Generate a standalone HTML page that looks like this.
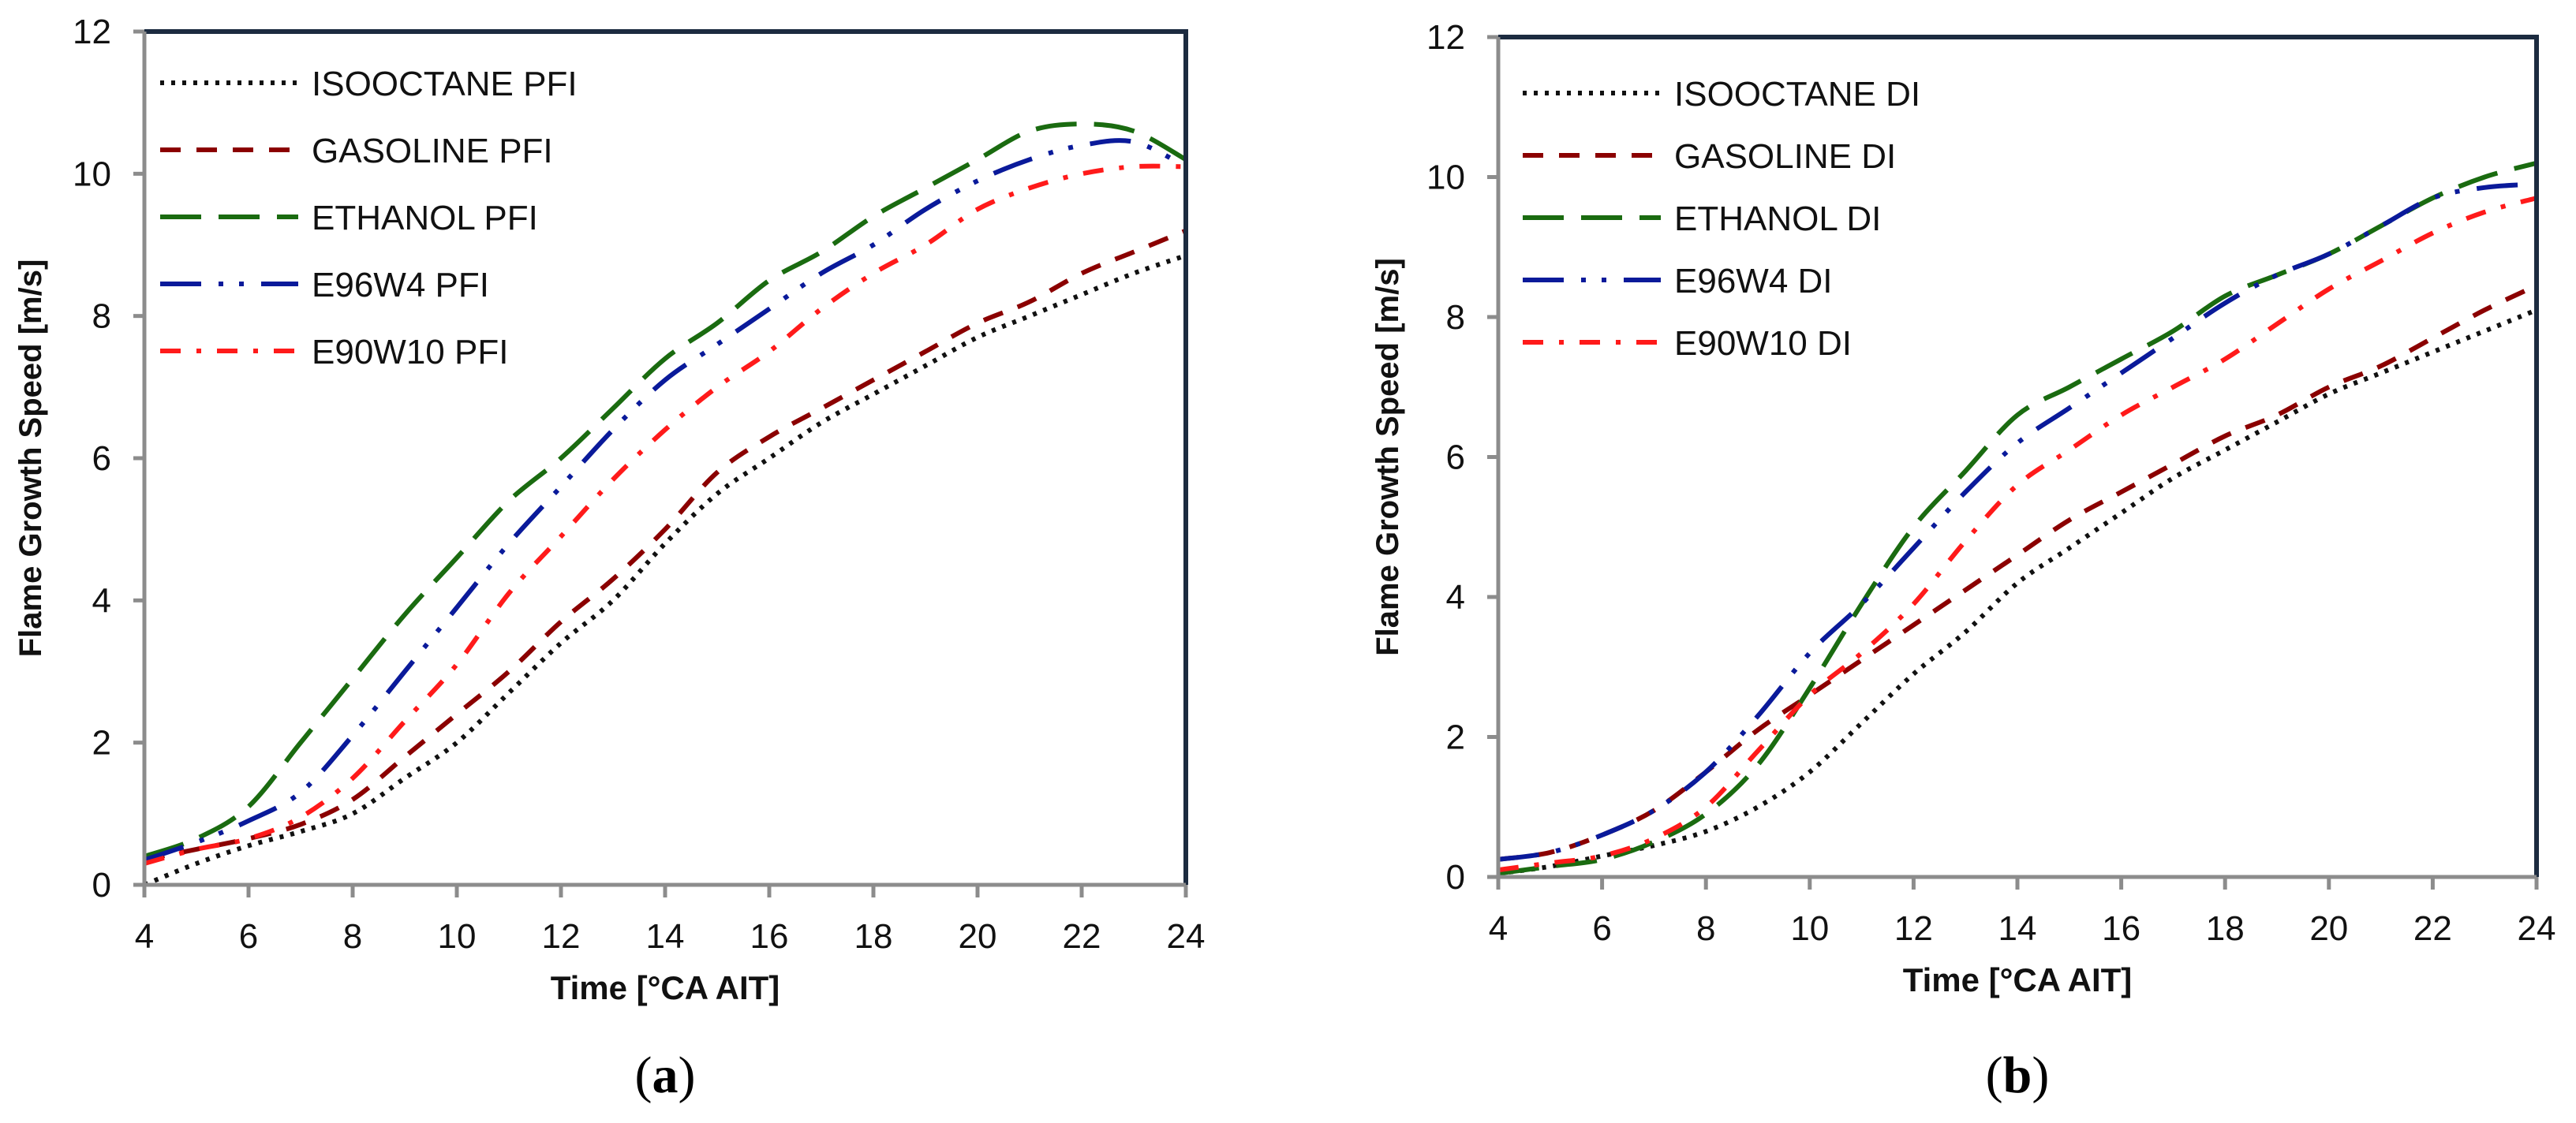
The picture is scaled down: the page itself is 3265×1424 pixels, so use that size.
<!DOCTYPE html>
<html><head><meta charset="utf-8"><style>
html,body{margin:0;padding:0;background:#fff;}
svg text{font-family:"Liberation Sans",sans-serif;}
</style></head><body>
<svg id="fig" width="3265" height="1419" viewBox="0 0 3265 1419" xmlns="http://www.w3.org/2000/svg"></svg>
<script>
const times = [4,5,6,7,8,9,10,11,12,13,14,15,16,17,18,19,20,21,22,23,24];
const xTicks = [4,6,8,10,12,14,16,18,20,22,24];
const yTicks = [0,2,4,6,8,10,12];
const pfiNames = ["ISOOCTANE PFI","GASOLINE PFI","ETHANOL PFI","E96W4 PFI","E90W10 PFI"];
const diNames = ["ISOOCTANE DI","GASOLINE DI","ETHANOL DI","E96W4 DI","E90W10 DI"];
const pfiIso = [0,0.3,0.55,0.75,1.0,1.5,2.0,2.7,3.4,4.0,4.8,5.5,6.0,6.5,6.9,7.3,7.7,8.0,8.3,8.6,8.85];
const pfiGas = [0.35,0.5,0.65,0.85,1.2,1.8,2.4,3.0,3.7,4.3,5.0,5.8,6.3,6.7,7.1,7.5,7.9,8.2,8.6,8.9,9.2];
const pfiEth = [0.4,0.65,1.1,2.0,2.9,3.8,4.6,5.4,6.0,6.7,7.4,7.9,8.5,8.9,9.4,9.8,10.2,10.6,10.7,10.6,10.2];
const pfiE96 = [0.35,0.6,0.9,1.3,2.1,3.0,3.9,4.8,5.6,6.4,7.1,7.6,8.1,8.6,9.0,9.5,9.9,10.2,10.4,10.45,10.1];
const pfiE90 = [0.3,0.5,0.65,0.95,1.5,2.3,3.1,4.1,4.9,5.7,6.4,7.0,7.5,8.1,8.6,9.0,9.5,9.8,10.0,10.1,10.1];
const diIso = [0.05,0.15,0.3,0.45,0.65,1.0,1.5,2.2,2.9,3.5,4.2,4.7,5.2,5.7,6.1,6.5,6.9,7.2,7.5,7.8,8.1];
const diGas = [0.25,0.35,0.6,0.95,1.5,2.1,2.6,3.1,3.6,4.1,4.6,5.1,5.5,5.9,6.3,6.6,7.0,7.3,7.7,8.1,8.45];
const diEth = [0.05,0.15,0.25,0.5,0.9,1.6,2.7,3.9,5.0,5.8,6.6,7.0,7.4,7.8,8.3,8.6,8.9,9.3,9.7,10.0,10.2];
const diE96 = [0.25,0.35,0.6,0.95,1.5,2.3,3.2,3.9,4.7,5.5,6.2,6.7,7.2,7.7,8.2,8.6,8.9,9.3,9.7,9.85,9.9];
const diE90 = [0.1,0.2,0.3,0.55,1.0,1.8,2.6,3.2,3.9,4.8,5.6,6.1,6.6,7.0,7.4,7.9,8.4,8.8,9.2,9.5,9.7];

const NS="http://www.w3.org/2000/svg";
const svg=document.getElementById('fig');
function mk(tag,attrs,parent){const e=document.createElementNS(NS,tag);for(const k in attrs)e.setAttribute(k,attrs[k]);(parent||svg).appendChild(e);return e;}
const styles=[
 {c:"#111111",d:"5 9"},
 {c:"#8b0000",d:"26 20"},
 {c:"#1a6b10",d:"52 22"},
 {c:"#0a1a9a",d:"52 22 6 20 6 22"},
 {c:"#ff1a1a",d:"26 20 6 20"}
];
function smooth(pts){let d=`M${pts[0][0]},${pts[0][1]}`;for(let i=0;i<pts.length-1;i++){const p0=pts[Math.max(0,i-1)],p1=pts[i],p2=pts[i+1],p3=pts[Math.min(pts.length-1,i+2)];
const c1=[p1[0]+(p2[0]-p0[0])/6,p1[1]+(p2[1]-p0[1])/6],c2=[p2[0]-(p3[0]-p1[0])/6,p2[1]-(p3[1]-p1[1])/6];
d+=` C${c1[0].toFixed(1)},${c1[1].toFixed(1)} ${c2[0].toFixed(1)},${c2[1].toFixed(1)} ${p2[0].toFixed(1)},${p2[1].toFixed(1)}`;}return d;}

function chart(cfg){
 const g=mk('g',{});
 
 
 const X=v=>cfg.x0+(v-4)/20*(cfg.x1-cfg.x0);
 const Y=v=>cfg.y0-v/12*(cfg.y0-cfg.yt);
 cfg.series.forEach((s,i)=>{
  const pts=times.map((t,j)=>[X(t),Y(s[j])]);
  const p=mk('path',{d:smooth(pts),fill:'none',stroke:styles[i].c,'stroke-width':6,'stroke-dasharray':styles[i].d},g);
  
  
 });
 const fr=mk('path',{d:`M${cfg.x0},${cfg.yt} H${cfg.x1} V${cfg.y0}`,fill:'none',stroke:'#1c2b40','stroke-width':6},g);
 
 
 const ax=mk('path',{d:`M${cfg.x0},${cfg.yt} V${cfg.y0} H${cfg.x1}`,fill:'none',stroke:'#8c8c8c','stroke-width':5},g);
 
 
 yTicks.forEach(v=>{
  const y=Y(v);
  const t=mk('line',{x1:cfg.x0-14,x2:cfg.x0,y1:y,y2:y,stroke:'#8c8c8c','stroke-width':5},g);
  
  
  const l=mk('text',{x:cfg.x0-42,y:y+15,'text-anchor':'end','font-size':44,fill:'#111'},g);
  l.textContent=v;
  
  
 });
 xTicks.forEach(v=>{
  const x=X(v);
  const t=mk('line',{x1:x,x2:x,y1:cfg.y0,y2:cfg.y0+16,stroke:'#8c8c8c','stroke-width':5},g);
  
  
  const l=mk('text',{x:x,y:cfg.y0+80,'text-anchor':'middle','font-size':44,fill:'#111'},g);
  l.textContent=v;
  
  
 });
 const xt=mk('text',{x:(cfg.x0+cfg.x1)/2,y:cfg.y0+145,'text-anchor':'middle','font-size':42,'font-weight':'bold',fill:'#111'},g);
 xt.textContent='Time [°CA AIT]';
 
 
 const yc=(cfg.yt+cfg.y0)/2;
 const yt=mk('text',{x:cfg.ytx,y:yc,'text-anchor':'middle','font-size':40,'font-weight':'bold',fill:'#111',transform:`rotate(-90 ${cfg.ytx} ${yc})`},g);
 yt.textContent='Flame Growth Speed [m/s]';
 
 
 cfg.names.forEach((n,i)=>{
  const y=cfg.ly+i*cfg.lstep;
  const ln=mk('line',{x1:cfg.lx,x2:cfg.lx+175,y1:y,y2:y,stroke:styles[i].c,'stroke-width':6,'stroke-dasharray':styles[i].d},g);
  
  
  const tx=mk('text',{x:cfg.lx+192,y:y+16,'font-size':44,fill:'#111'},g);
  tx.textContent=n;
  
  
 });
 const cap=mk('text',{x:(cfg.x0+cfg.x1)/2,y:1385,'text-anchor':'middle','font-size':66,fill:'#000',style:'font-family:"Liberation Serif",serif'},g);
 cap.innerHTML=`(<tspan font-weight="bold">${cfg.cap}</tspan>)`;
 
 
}
chart({id:'chart-pfi',x0:183,x1:1503,y0:1122,yt:40,ytx:52,lx:203,ly:105,lstep:85,names:pfiNames,series:[pfiIso,pfiGas,pfiEth,pfiE96,pfiE90],cap:'a'});
chart({id:'chart-di',x0:1899,x1:3215,y0:1112,yt:47,ytx:1772,lx:1930,ly:118,lstep:79,names:diNames,series:[diIso,diGas,diEth,diE96,diE90],cap:'b'});
</script>
</body></html>
